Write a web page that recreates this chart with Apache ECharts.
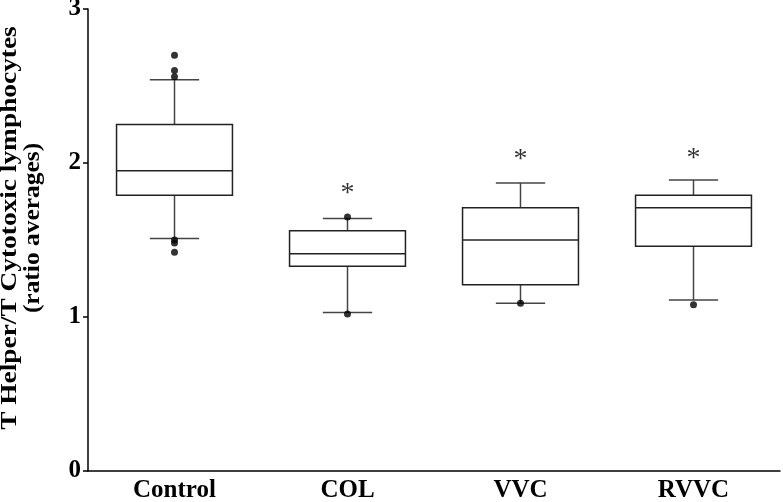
<!DOCTYPE html>
<html>
<head>
<meta charset="utf-8">
<script src="https://cdn.jsdelivr.net/npm/echarts@6/dist/echarts.min.js"></script>
<style>html,body{margin:0;padding:0;background:#fff;}#c{width:783px;height:502px;}</style>
</head>
<body>
<div id="c"></div>
<script>
const categories = ['Control', 'COL', 'VVC', 'RVVC'];
const whiskerLow = [1.51, 1.03, 1.09, 1.11];
const q1 = [1.79, 1.33, 1.21, 1.46];
const median = [1.95, 1.41, 1.50, 1.71];
const q3 = [2.25, 1.56, 1.71, 1.79];
const whiskerHigh = [2.54, 1.64, 1.87, 1.89];
const outlierGroup = [0, 0, 0, 0, 0, 0, 1, 1, 2, 3];
const outlierValue = [2.70, 2.60, 2.56, 1.50, 1.48, 1.42, 1.65, 1.02, 1.09, 1.08];
const starGroup = [1, 2, 3];
const starValue = [1.82, 2.04, 2.05];
const yTicks = [0, 1, 2, 3];
const yTitleLine1 = 'T Helper/T Cytotoxic lymphocytes';
const yTitleLine2 = '(ratio averages)';

const FONT = '"Liberation Serif", "Times New Roman", serif';

const boxData = categories.map((c, i) => [i, whiskerLow[i], q1[i], median[i], q3[i], whiskerHigh[i]]);
const outlierData = outlierGroup.map((g, k) => [g, outlierValue[k]]);
const starData = starGroup.map((g, k) => [g, starValue[k]]);

const chart = echarts.init(document.getElementById('c'), null, { renderer: 'canvas' });
chart.setOption({
  animation: false,
  backgroundColor: '#fff',
  grid: { left: 88, right: 3, top: 9, bottom: 31, containLabel: false, outerBoundsMode: 'none' },
  graphic: [
    {
      type: 'text', x: 10, y: 228, rotation: Math.PI / 2, scaleX: 1.14,
      style: {
        text: yTitleLine1, fontFamily: FONT, fontWeight: 'bold', fontSize: 24, fill: '#000',
        textAlign: 'center', textVerticalAlign: 'middle', align: 'center', verticalAlign: 'middle'
      }
    },
    {
      type: 'text', x: 33, y: 228, rotation: Math.PI / 2, scaleX: 1.06,
      style: {
        text: yTitleLine2, fontFamily: FONT, fontWeight: 'bold', fontSize: 24, fill: '#000',
        textAlign: 'center', textVerticalAlign: 'middle', align: 'center', verticalAlign: 'middle'
      }
    }
  ],
  xAxis: {
    type: 'category',
    data: categories,
    boundaryGap: true,
    axisLine: { lineStyle: { color: '#000', width: 1.5 } },
    axisTick: { alignWithLabel: true, length: 5, lineStyle: { color: '#000', width: 1.5 } },
    axisLabel: { color: '#000', fontFamily: FONT, fontWeight: 'bold', fontSize: 25, margin: 7, lineHeight: 25 },
    splitLine: { show: false }
  },
  yAxis: {
    type: 'value',
    min: 0, max: 3, interval: 1,
    axisLine: { show: true, lineStyle: { color: '#000', width: 1.5 } },
    axisTick: { show: true, length: 5, lineStyle: { color: '#000', width: 1.5 } },
    axisLabel: {
      color: '#000', fontFamily: FONT, fontWeight: 'bold', fontSize: 25, margin: 7,
      formatter: v => yTicks.includes(v) ? String(v) : ''
    },
    splitLine: { show: false }
  },
  series: [
    {
      type: 'custom',
      data: boxData,
      encode: { x: 0, y: [1, 2, 3, 4, 5] },
      renderItem: function (params, api) {
        const i = api.value(0);
        const band = api.size([1, 0])[0];
        const bw = band * 0.67;
        const cw = band * 0.285;
        const x = api.coord([i, 0])[0];
        const yLo = api.coord([i, api.value(1)])[1];
        const yQ1 = api.coord([i, api.value(2)])[1];
        const yMed = api.coord([i, api.value(3)])[1];
        const yQ3 = api.coord([i, api.value(4)])[1];
        const yHi = api.coord([i, api.value(5)])[1];
        const stroke = { stroke: '#222', lineWidth: 1.5, fill: null };
        const wStroke = { stroke: '#444', lineWidth: 1.5, fill: null };
        return {
          type: 'group',
          children: [
            { type: 'line', shape: { x1: x, y1: yQ3, x2: x, y2: yHi }, style: wStroke },
            { type: 'line', shape: { x1: x, y1: yQ1, x2: x, y2: yLo }, style: wStroke },
            { type: 'line', shape: { x1: x - cw / 2, y1: yHi, x2: x + cw / 2, y2: yHi }, style: wStroke },
            { type: 'line', shape: { x1: x - cw / 2, y1: yLo, x2: x + cw / 2, y2: yLo }, style: wStroke },
            { type: 'rect', shape: { x: x - bw / 2, y: yQ3, width: bw, height: yQ1 - yQ3 }, style: { stroke: '#222', lineWidth: 1.5, fill: '#fff' } },
            { type: 'line', shape: { x1: x - bw / 2, y1: yMed, x2: x + bw / 2, y2: yMed }, style: stroke }
          ]
        };
      }
    },
    {
      type: 'scatter',
      data: outlierData,
      symbol: 'circle',
      symbolSize: 7,
      itemStyle: { color: '#000' },
      z: 5
    },
    {
      type: 'scatter',
      data: starData,
      symbol: 'circle',
      symbolSize: 1,
      itemStyle: { color: 'rgba(0,0,0,0)' },
      label: {
        show: true, position: 'inside', formatter: '*',
        fontFamily: FONT, fontSize: 28, color: '#000', offset: [0, 3]
      }
    }
  ]
});
</script>
</body>
</html>
